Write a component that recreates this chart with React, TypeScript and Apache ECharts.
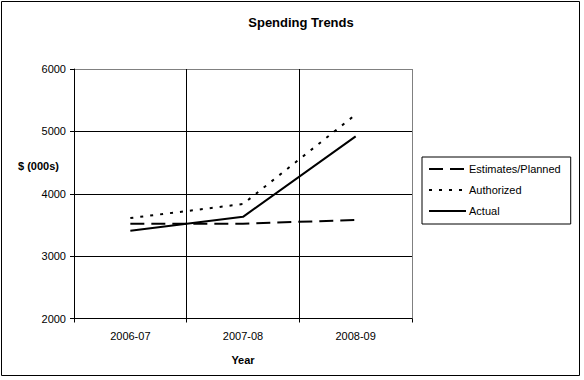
import React, { useEffect, useRef } from "react";
import * as echarts from "echarts";

const categories = ["2006-07", "2007-08", "2008-09"];
const estimates = [3520, 3520, 3580];
const authorized = [3610, 3835, 5270];
const actual = [3405, 3630, 4920];
const yTicks = { min: 2000, max: 6000, interval: 1000 };

const FONT = "'Liberation Sans', Arial, sans-serif";

export default function App() {
  const ref = useRef<HTMLDivElement>(null);
  useEffect(() => {
    if (!ref.current) return;
    const chart = echarts.init(ref.current, undefined, { renderer: "svg" });
    chart.setOption({
      animation: false,
      backgroundColor: "#ffffff",
      textStyle: { fontFamily: FONT },
      title: {
        text: "Spending Trends",
        left: 296,
        textAlign: "center",
        top: 11,
        textStyle: { fontSize: 13, fontWeight: "bold", color: "#000", fontFamily: FONT },
      },
      grid: { left: 74, right: 172, top: 69, bottom: 61.5, containLabel: false },
      legend: {
        orient: "vertical",
        left: 422,
        top: 157,
        padding: [5, 10, 6, 6],
        itemWidth: 37,
        itemHeight: 14,
        itemGap: 7,
        borderColor: "#000",
        borderWidth: 1,
        itemStyle: { opacity: 0 },
        textStyle: {
          fontSize: 11,
          color: "#000",
          fontFamily: FONT,
          padding: [0, 0, 0, -2],
          lineHeight: 14,
          height: 14,
        },
        data: ["Estimates/Planned", "Authorized", "Actual"],
      },
      xAxis: {
        type: "category",
        data: categories,
        boundaryGap: true,
        name: "Year",
        nameLocation: "middle",
        nameGap: 36,
        nameTextStyle: { fontSize: 11, fontWeight: "bold", color: "#000", fontFamily: FONT },
        axisLine: { lineStyle: { color: "#000", width: 1 } },
        axisTick: { show: true, length: 4, lineStyle: { color: "#000" } },
        axisLabel: { fontSize: 11, color: "#000", margin: 12, fontFamily: FONT },
        splitLine: {
          show: true,
          lineStyle: { color: ["#000", "#000", "#000", "#808080"], width: 1 },
        },
      },
      yAxis: {
        type: "value",
        min: yTicks.min,
        max: yTicks.max,
        interval: yTicks.interval,
        axisLine: { show: true, lineStyle: { color: "#000", width: 1 } },
        axisTick: { show: true, length: 4, lineStyle: { color: "#000" } },
        axisLabel: {
          fontSize: 11,
          color: "#000",
          margin: 8,
          fontFamily: FONT,
          formatter: (v: number) => String(v),
        },
        splitLine: {
          show: true,
          lineStyle: { color: ["#000", "#000", "#000", "#000", "#808080"], width: 1 },
        },
      },
      graphic: [
        {
          type: "rect",
          z: 100,
          shape: { x: 1.5, y: 1.5, width: 578, height: 374 },
          style: { fill: "transparent", stroke: "#000", lineWidth: 1 },
        },
        {
          type: "text",
          left: 18,
          top: 160,
          style: {
            text: "$ (000s)",
            fontSize: 11,
            fontWeight: "bold",
            fill: "#000",
            fontFamily: FONT,
          },
        },
      ],
      series: [
        {
          name: "Estimates/Planned",
          type: "line",
          data: estimates,
          symbol: "none",
          lineStyle: { color: "#000", width: 2, type: [14, 7] },
          itemStyle: { color: "#000" },
        },
        {
          name: "Authorized",
          type: "line",
          data: authorized,
          symbol: "none",
          lineStyle: { color: "#000", width: 2, type: [3, 7] },
          itemStyle: { color: "#000" },
        },
        {
          name: "Actual",
          type: "line",
          data: actual,
          symbol: "none",
          lineStyle: { color: "#000", width: 2, type: "solid" },
          itemStyle: { color: "#000" },
        },
      ],
    });
    return () => chart.dispose();
  }, []);
  return (
    <div
      ref={ref}
      style={{ position: "fixed", left: 0, top: 0, width: 584, height: 380 }}
    />
  );
}
